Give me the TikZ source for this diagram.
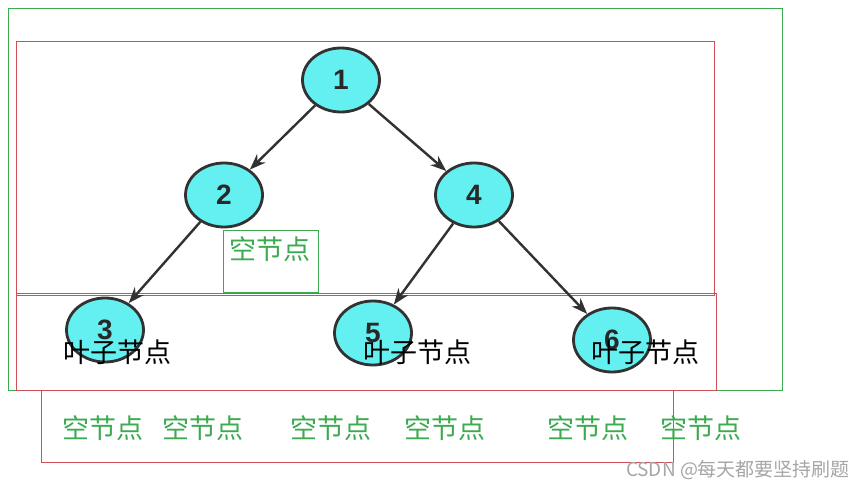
\documentclass[tikz,border=0pt]{standalone}
\usepackage{fontspec}
\setmainfont{Liberation Sans}
\newfontfamily\cjk{Noto Sans CJK SC}
\usepackage{tikz}
\usetikzlibrary{arrows.meta,shapes}
\definecolor{treecyan}{RGB}{100,240,240}
\definecolor{edgegray}{RGB}{50,50,50}
\definecolor{boxred}{RGB}{205,80,90}
\definecolor{boxgreen}{RGB}{60,170,80}
\tikzset{
  tnode/.style={ellipse,draw=edgegray,line width=2.8pt,fill=treecyan,minimum width=77pt,minimum height=64pt,inner sep=0pt,font=\bfseries\fontsize{28}{28}\selectfont,text=edgegray!80!black},
  tedge/.style={-{Stealth[length=16pt,width=12pt]},line width=2.4pt,draw=edgegray},
  leaf/.style={font=\cjk\fontsize{27}{27}\selectfont,text=black},
  empty/.style={font=\cjk\fontsize{27}{27}\selectfont,text=boxgreen}
}
\begin{document}
\begin{tikzpicture}[x=1pt,y=-1pt]
\useasboundingbox[fill=white](0,0) rectangle (853,489);
% boxes
\draw[boxgreen,line width=0.8pt](8,8) rectangle (782,390);
\draw[boxred,line width=0.8pt](16,41) rectangle (714,295);
\draw[boxred,line width=0.8pt](16,293) rectangle (716,390);
\draw[boxred,line width=0.8pt](41,390) rectangle (673,462);
\draw[boxgreen,line width=0.8pt](223,230) rectangle (318,292);
% tree
\node[tnode](n1) at (341,80){1};
\node[tnode](n2) at (224,195){2};
\node[tnode](n4) at (474,195){4};
\node[tnode](n3) at (105,330){3};
\node[tnode](n5) at (373,333){5};
\node[tnode](n6) at (612,340){6};
\draw[tedge](n1)--(n2);
\draw[tedge](n1)--(n4);
\draw[tedge](n2)--(n3);
\draw[tedge](n4)--(n5);
\draw[tedge](n4)--(n6);
% labels
\node[empty](e0) at (270,249){空节点};
\node[leaf](l3) at (117,352){叶子节点};
\node[leaf](l5) at (417,352){叶子节点};
\node[leaf](l6) at (645,352){叶子节点};
\foreach \x [count=\i] in {103,203,331,445,588,701}
  \node[empty](e\i) at (\x,428){空节点};
\node[font=\cjk\fontsize{19}{19}\selectfont,text=black!35](mark) at (738,470){CSDN @每天都要坚持刷题};
\end{tikzpicture}
\end{document}
